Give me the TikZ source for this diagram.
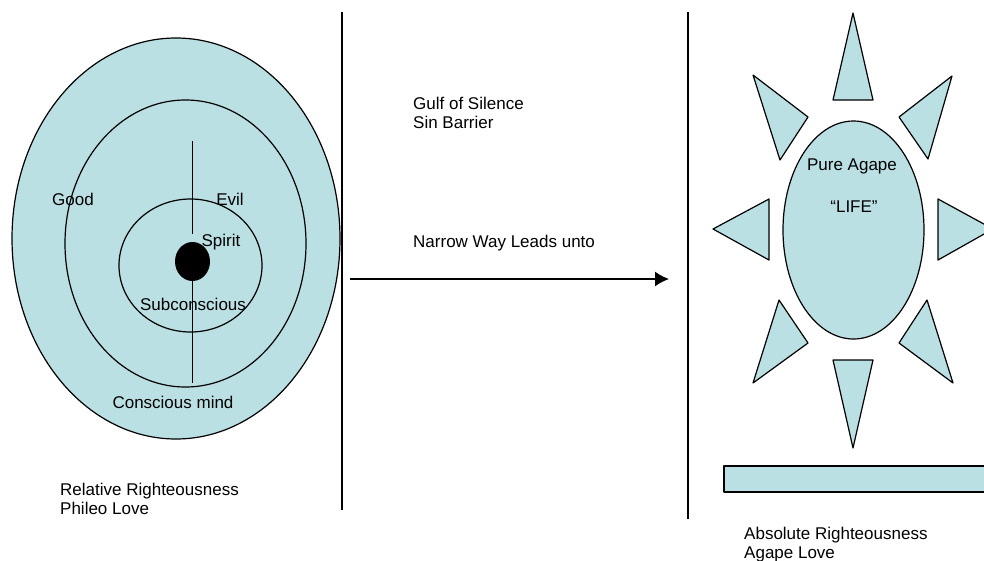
\documentclass[tikz,border=0pt]{standalone}
\usepackage{fontspec}
\setmainfont{Liberation Sans}
\usetikzlibrary{arrows.meta}
\definecolor{paleteal}{RGB}{187,224,227}
\tikzset{
  shade/.style={draw=black,fill=paleteal,line width=1.2pt,line join=round},
  wall/.style={line width=1.5pt},
  lbl/.style={inner sep=0pt,font=\fontsize{17}{19}\selectfont},
  note/.style={lbl,anchor=west,align=left}
}
\begin{document}
\begin{tikzpicture}[>={Latex[length=14pt,width=15pt]},x=1pt,y=-1pt]
\useasboundingbox (0,0) rectangle (984,560);

% the mind
\draw[shade] (176,238.5) ellipse (164 and 200.5);
\draw[shade] (185.5,243.5) ellipse (120.5 and 143.5);
\draw[shade] (190.5,265.5) ellipse (71.5 and 66.5);
\fill (192.5,261.5) ellipse (17.5 and 19.5);
\draw[line width=1.2pt] (192.5,141)--(192.5,234);
\draw[line width=1.2pt] (192.5,281)--(192.5,383);
\foreach \x/\y/\txt/\nm in {73/199/Good/good,230/199/Evil/evil,221/242/Spirit/spirit,193/304/Subconscious/subc,173/402/Conscious mind/consc}
{
    \node[lbl] (\nm) at (\x,\y) {\txt};
}

% the gulf
\draw[wall] (342,12)--(342,510);
\draw[wall] (688,12)--(688,519);
\coordinate (way0) at (350,279);
\coordinate (way1) at (669,279);
\draw[wall,->] (way0)--(way1);
\node[note] (gulf) at (413,113) {Gulf of Silence\\Sin Barrier};
\node[note] (way) at (413,243) {Narrow Way Leads unto};

% the sun
\foreach \ax/\ay/\bx/\by/\cx/\cy in {853/13/833/100/873/100, 753/75/808/117/780/160, 952/76/899/117/928/159, 713/229/769/199/769/260, 993/229/938/199/938/260, 779/300/808/343/753/383, 927/300/899/343/953/383, 833/360/873/360/853/448}
{
    \draw[shade] (\ax,\ay)--(\bx,\by)--(\cx,\cy)--cycle;
}
\draw[shade] (853.5,230) ellipse (70.5 and 109);
\draw[shade] (724,466) rectangle (995,492);
\node[lbl] (agape) at (852,166) {Pure Agape};
\node[lbl] (life) at (854,207) {“LIFE”};

\node[note] (relative) at (60,499) {Relative Righteousness\\Phileo Love};
\node[note] (absolute) at (744,545) {Absolute Righteousness\\Agape Love};

\end{tikzpicture}
\end{document}
